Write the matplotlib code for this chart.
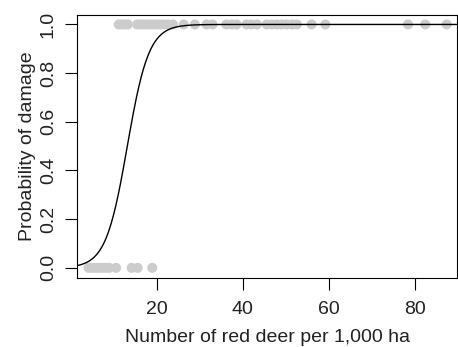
import numpy as np
import matplotlib
matplotlib.use("Agg")
import matplotlib.pyplot as plt

plt.rcParams['font.family'] = ['Liberation Sans', 'DejaVu Sans']

# observed deer densities with damage (1) and without damage (0)
x_damage = [11.2, 11.8, 12.5, 13.3, 15.5, 16.2, 17.0, 17.8, 18.5, 19.3, 20.1,
            20.8, 21.6, 22.6, 23.8, 26.3, 28.9, 31.6, 33.0, 36.2, 37.5, 38.6,
            40.9, 42.0, 43.3, 45.6, 46.8, 47.9, 49.0, 50.2, 51.5, 52.6, 56.0,
            59.2, 78.4, 82.4, 87.4]
x_nodamage = [4.2, 5.0, 5.8, 6.5, 7.3, 8.2, 9.0, 10.6, 14.2, 15.6, 19.0]

# fitted logistic curve parameters
curve_mid = 13.2
curve_slope = 0.40

xticks = [20, 40, 60, 80]
yticks = [0.0, 0.2, 0.4, 0.6, 0.8, 1.0]

fig = plt.figure(figsize=(4.58, 3.47), dpi=100)
ax = fig.add_axes([0.168, 0.2, 0.83, 0.7576])

ax.scatter(x_damage, [1] * len(x_damage), s=52, color='#cccccc', edgecolors='none', zorder=2)
ax.scatter(x_nodamage, [0] * len(x_nodamage), s=52, color='#cccccc', edgecolors='none', zorder=2)

xs = np.linspace(1.5, 90, 500)
ys = 1 / (1 + np.exp(-curve_slope * (xs - curve_mid)))
ax.plot(xs, ys, color='black', lw=1.0, zorder=3)

ax.set_xlim(1.5, 89.8)
ax.set_ylim(-0.04, 1.04)
ax.set_xticks(xticks)
ax.set_yticks(yticks)
ax.set_yticklabels([f"{v:.1f}" for v in yticks], rotation=90, va='center')
ax.tick_params(axis='both', direction='out', length=8.5, width=0.8, labelsize=14,
               labelcolor='#222222')
ax.tick_params(axis='x', pad=8)
ax.tick_params(axis='y', pad=6)
for sp in ax.spines.values():
    sp.set_linewidth(0.8)

ax.set_xlabel("Number of red deer per 1,000 ha", fontsize=14, labelpad=8, color='#222222')
ax.set_ylabel("Probability of damage", fontsize=14, labelpad=3, color='#222222')

fig.savefig("out.png", dpi=100)
